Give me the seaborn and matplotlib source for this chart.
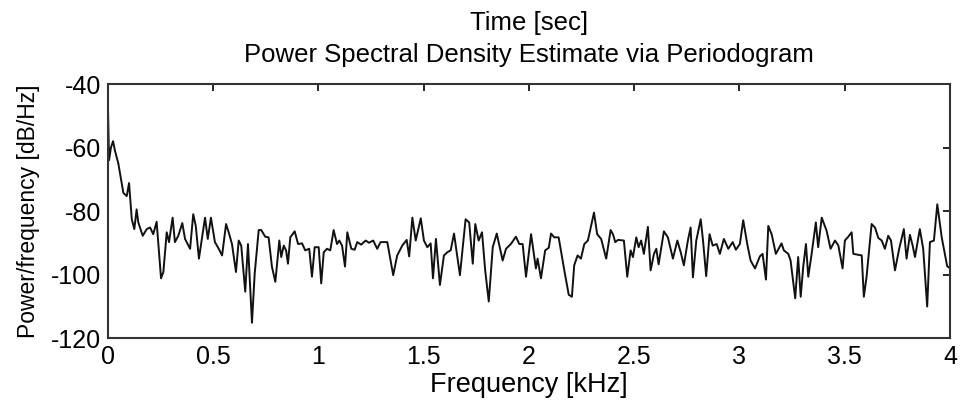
import numpy as np
import pandas as pd
import matplotlib
matplotlib.use("Agg")
import matplotlib.pyplot as plt
import seaborn as sns

# Frequency (kHz) and PSD (dB/Hz)
freq_khz = [
    0.000, 0.005, 0.014, 0.024, 0.033, 0.049, 0.073, 0.089, 0.100, 0.113,
    0.125, 0.136, 0.144, 0.165, 0.184, 0.200, 0.215, 0.231, 0.252, 0.263,
    0.279, 0.290, 0.307, 0.318, 0.334, 0.353, 0.366, 0.390, 0.405, 0.417,
    0.432, 0.461, 0.474, 0.489, 0.508, 0.527, 0.542, 0.561, 0.576, 0.589,
    0.608, 0.621, 0.633, 0.652, 0.665, 0.684, 0.697, 0.716, 0.728, 0.747,
    0.763, 0.779, 0.795, 0.814, 0.823, 0.835, 0.846, 0.855, 0.866, 0.887,
    0.903, 0.922, 0.937, 0.956, 0.969, 0.982, 1.001, 1.013, 1.025, 1.040,
    1.056, 1.072, 1.088, 1.099, 1.112, 1.126, 1.137, 1.156, 1.172, 1.184,
    1.203, 1.224, 1.240, 1.260, 1.279, 1.295, 1.327, 1.355, 1.374, 1.398,
    1.419, 1.431, 1.446, 1.462, 1.486, 1.501, 1.517, 1.533, 1.544, 1.558,
    1.577, 1.596, 1.612, 1.628, 1.644, 1.672, 1.699, 1.716, 1.733, 1.745,
    1.761, 1.777, 1.792, 1.809, 1.828, 1.847, 1.875, 1.891, 1.914, 1.938,
    1.954, 1.970, 1.986, 2.010, 2.033, 2.041, 2.057, 2.077, 2.094, 2.105,
    2.120, 2.141, 2.168, 2.189, 2.204, 2.215, 2.231, 2.247, 2.263, 2.280,
    2.309, 2.324, 2.343, 2.367, 2.388, 2.399, 2.410, 2.423, 2.451, 2.467,
    2.483, 2.494, 2.510, 2.521, 2.533, 2.546, 2.565, 2.578, 2.594, 2.605,
    2.616, 2.641, 2.660, 2.684, 2.705, 2.721, 2.736, 2.755, 2.768, 2.779,
    2.795, 2.816, 2.827, 2.842, 2.858, 2.873, 2.892, 2.907, 2.926, 2.947,
    2.968, 2.983, 3.002, 3.018, 3.037, 3.053, 3.074, 3.097, 3.110, 3.126,
    3.137, 3.153, 3.173, 3.200, 3.211, 3.232, 3.243, 3.265, 3.279, 3.291,
    3.303, 3.316, 3.327, 3.343, 3.363, 3.374, 3.391, 3.414, 3.433, 3.454,
    3.470, 3.490, 3.501, 3.517, 3.533, 3.541, 3.581, 3.591, 3.604, 3.628,
    3.644, 3.660, 3.676, 3.691, 3.707, 3.720, 3.739, 3.759, 3.781, 3.794,
    3.810, 3.823, 3.834, 3.857, 3.873, 3.892, 3.905, 3.924, 3.940, 3.961,
    3.987, 4.000,
]
psd_db = [
    -48.0, -64.0, -60.0, -58.0, -61.0, -65.0, -74.3, -75.3, -71.2, -82.6,
    -85.7, -79.5, -83.6, -87.8, -85.7, -85.2, -87.3, -83.4, -101.2, -99.2,
    -86.7, -89.8, -82.1, -89.8, -87.8, -83.8, -88.8, -91.9, -81.0, -84.7,
    -95.0, -82.1, -88.8, -82.1, -89.8, -92.0, -94.0, -84.1, -87.3, -90.4,
    -99.2, -89.3, -90.9, -105.4, -90.4, -115.2, -99.7, -86.0, -86.0, -88.1,
    -88.3, -97.6, -102.3, -89.3, -94.5, -90.9, -92.4, -96.6, -88.3, -86.4,
    -90.4, -90.2, -92.4, -91.9, -100.7, -91.4, -91.4, -102.8, -93.0, -91.9,
    -92.4, -86.0, -90.4, -89.3, -90.9, -97.5, -86.7, -91.9, -92.2, -89.8,
    -90.6, -89.3, -90.0, -89.3, -91.9, -89.8, -89.8, -100.2, -94.0, -90.9,
    -89.1, -94.3, -82.1, -89.3, -82.3, -89.3, -91.4, -90.2, -101.2, -88.8,
    -103.3, -94.0, -93.0, -92.4, -87.1, -100.2, -82.6, -83.6, -96.6, -84.1,
    -89.3, -86.7, -98.7, -108.5, -91.4, -87.1, -95.6, -91.9, -90.4, -88.1,
    -90.4, -90.4, -100.7, -87.3, -98.1, -95.0, -101.2, -92.4, -91.6, -87.1,
    -88.3, -88.3, -98.7, -106.4, -107.0, -97.1, -94.0, -95.0, -90.4, -89.3,
    -80.5, -87.3, -88.8, -95.0, -86.0, -87.3, -89.8, -89.1, -89.3, -100.7,
    -92.4, -94.5, -88.3, -91.4, -89.3, -93.5, -85.0, -98.7, -93.5, -91.9,
    -96.8, -86.4, -88.3, -95.0, -89.3, -93.0, -97.1, -89.3, -85.2, -100.9,
    -89.3, -82.6, -89.3, -100.5, -87.3, -90.9, -90.4, -93.5, -88.8, -91.9,
    -89.8, -92.2, -90.4, -82.9, -90.4, -95.6, -98.1, -94.3, -93.5, -101.6,
    -84.7, -87.3, -93.5, -90.2, -92.4, -93.5, -95.6, -107.5, -94.5, -107.0,
    -97.6, -90.4, -100.7, -93.5, -83.6, -91.4, -82.1, -86.2, -91.9, -89.3,
    -90.9, -98.1, -89.3, -88.1, -86.7, -93.5, -94.0, -107.0, -100.7, -84.1,
    -85.2, -88.5, -89.3, -91.9, -87.8, -89.3, -98.7, -91.9, -85.7, -95.0,
    -87.5, -90.9, -94.5, -85.7, -91.9, -110.1, -89.8, -89.3, -77.9, -88.3,
    -97.4, -98.0,
]
x_ticks = [0, 0.5, 1, 1.5, 2, 2.5, 3, 3.5, 4]
x_tick_labels = ["0", "0.5", "1", "1.5", "2", "2.5", "3", "3.5", "4"]
y_ticks = [-120, -100, -80, -60, -40]
y_tick_labels = ["-120", "-100", "-80", "-60", "-40"]

df = pd.DataFrame({"freq": freq_khz, "psd": psd_db})

sns.set_theme(style="white")
plt.rcParams["font.family"] = ["Liberation Sans", "DejaVu Sans"]
plt.rcParams["text.color"] = "black"
plt.rcParams["axes.labelcolor"] = "black"

fig = plt.figure(figsize=(9.6, 4.0), dpi=100)
ax = fig.add_axes([0.1125, 0.155, 0.877, 0.635])

sns.lineplot(data=df, x="freq", y="psd", ax=ax, color="#111111",
             linewidth=1.4, sort=False, estimator=None)

ax.set_xlim(0, 4)
ax.set_ylim(-120, -40)
ax.set_xticks(x_ticks)
ax.set_xticklabels(x_tick_labels)
ax.set_yticks(y_ticks)
ax.set_yticklabels(y_tick_labels)
ax.tick_params(direction="in", length=5, width=1.2, top=True, right=True,
               labelsize=18, colors="black", pad=5)
for s in ax.spines.values():
    s.set_color("#333333")
    s.set_linewidth(1.5)

ax.set_xlabel("Frequency [kHz]", fontsize=19.5, labelpad=2)
ax.set_ylabel("Power/frequency [dB/Hz]", fontsize=16.5, labelpad=8)
ax.set_title("Time [sec]\nPower Spectral Density Estimate via Periodogram",
             fontsize=18.5, linespacing=1.4, pad=16, color="black")

fig.savefig("out.png", dpi=100, facecolor="white")
